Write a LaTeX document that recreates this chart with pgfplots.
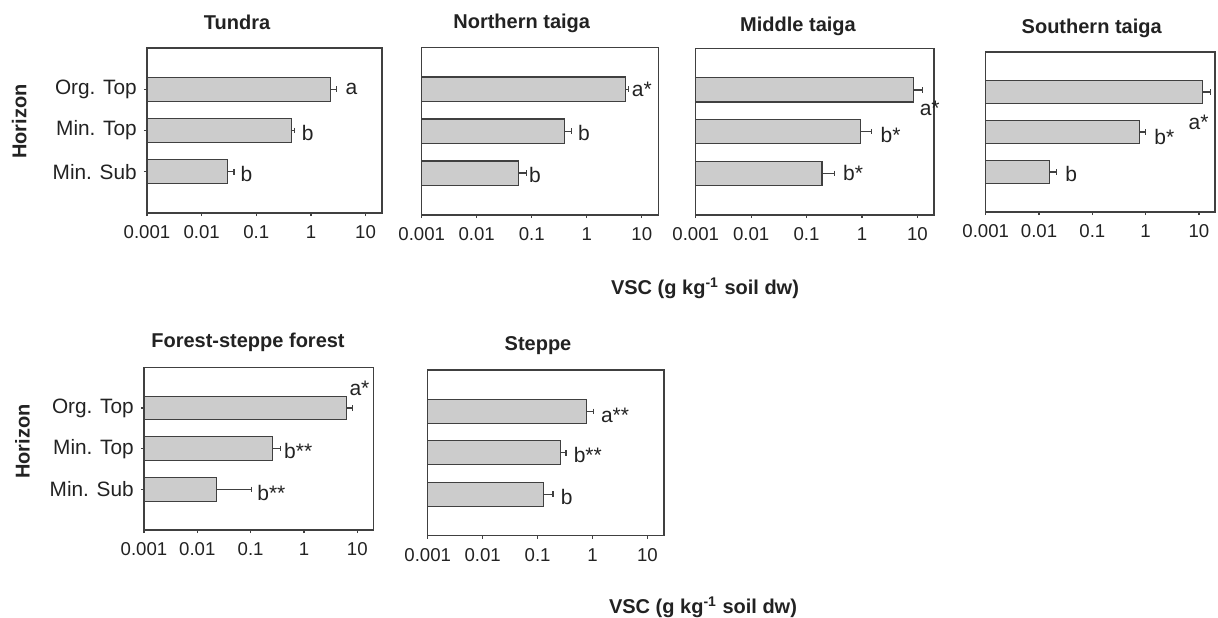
\documentclass[border=0pt]{standalone}
\usepackage{pgfplots}
\pgfplotsset{compat=1.18}
\usepackage{fontspec}
\setmainfont{Liberation Sans}

\definecolor{barfill}{HTML}{CCCCCC}
\definecolor{edgegray}{HTML}{404040}
\definecolor{txt}{HTML}{222222}

\pgfplotsset{/pgf/number format/assume math mode=true}
\pgfplotsset{
  vscpanel/.style={
    scale only axis, anchor=south west, clip=false,
    log origin=infty,
    xmin=0.001, xmax=20, ymin=0, ymax=4, y dir=reverse,
    xtick={0.001,0.01,0.1,1,10}, xticklabels={0.001,0.01,0.1,1,10},
    xminorticks=false,
    ytick={1,2,3}, yticklabels={},
    xtick pos=bottom, ytick pos=left,
    tick align=outside, major tick length=1.6pt,
    axis line style={edgegray, line width=0.75pt},
    tick style={edgegray, line width=0.6pt},
    tick label style={font=\fontsize{9.3}{10}\selectfont, text=txt},
    xticklabel style={yshift=-1.2pt},
    yticklabel style={font=\fontsize{10.4}{11}\selectfont},
    xbar, bar width=0.58,
  },
  noy/.style={ytick=\empty},
  vscbars/.style={fill=barfill, draw=edgegray, line width=0.6pt,
    error bars/x dir=plus, error bars/x explicit,
    error bars/error bar style={edgegray, line width=0.6pt},
    error bars/error mark options={rotate=90, mark size=1.4pt, edgegray, line width=0.6pt}},
}
\tikzset{
  lab/.style={font=\fontsize{10.5}{11}\selectfont, text=txt},
  ttl/.style={font=\bfseries\fontsize{10}{12}\selectfont, text=txt, anchor=base},
  axlab/.style={font=\bfseries\fontsize{10}{12}\selectfont, text=txt},
}

\begin{document}
\begin{tikzpicture}
\useasboundingbox (0,0) rectangle (609pt,308.5pt);

% top row
\begin{semilogxaxis}[vscpanel, at={(73.5pt,202pt)}, width=117.5pt, height=82.5pt,
    yticklabels={Org. Top, Min. Top, Min. Sub}]
  \addplot[vscbars] coordinates {(2.3,1) +- (0.67,0) (0.44,2) +- (0.06,0) (0.030,3) +- (0.009,0)};
  \node[lab] at (axis cs:5.5,1) {a};
  \node[lab] at (axis cs:0.87,2.05) {b};
  \node[lab] at (axis cs:0.066,3.05) {b};
\end{semilogxaxis}

\begin{semilogxaxis}[vscpanel, noy, at={(210.85pt,201pt)}, width=118.3pt, height=83.85pt]
  \addplot[vscbars] coordinates {(5.0,1) +- (0.7,0) (0.39,2) +- (0.14,0) (0.058,3) +- (0.023,0)};
  \node[lab] at (axis cs:10,1) {a*};
  \node[lab] at (axis cs:0.89,2.05) {b};
  \node[lab] at (axis cs:0.115,3.05) {b};
\end{semilogxaxis}

\begin{semilogxaxis}[vscpanel, noy, at={(347.85pt,201pt)}, width=119.15pt, height=83.35pt]
  \addplot[vscbars] coordinates {(8.5,1) +- (4.0,0) (0.93,2) +- (0.54,0) (0.19,3) +- (0.13,0)};
  \node[lab] at (axis cs:16.7,1.43) {a*};
  \node[lab] at (axis cs:3.3,2.07) {b*};
  \node[lab] at (axis cs:0.69,3.0) {b*};
\end{semilogxaxis}

\begin{semilogxaxis}[vscpanel, noy, at={(492.85pt,202.5pt)}, width=114.65pt, height=80pt]
  \addplot[vscbars] coordinates {(11.5,1) +- (5.0,0) (0.76,2) +- (0.22,0) (0.0157,3) +- (0.0053,0)};
  \node[lab] at (axis cs:9.8,1.75) {a*};
  \node[lab] at (axis cs:2.24,2.13) {b*};
  \node[lab] at (axis cs:0.040,3.05) {b};
\end{semilogxaxis}

% bottom row
\begin{semilogxaxis}[vscpanel, at={(72pt,43.5pt)}, width=114.65pt, height=81.35pt,
    yticklabels={Org. Top, Min. Top, Min. Sub}]
  \addplot[vscbars] coordinates {(6.3,1) +- (1.8,0) (0.26,2) +- (0.10,0) (0.023,3) +- (0.081,0)};
  \node[lab] at (axis cs:11,0.51) {a*};
  \node[lab] at (axis cs:0.78,2.05) {b**};
  \node[lab] at (axis cs:0.245,3.09) {b**};
\end{semilogxaxis}

\begin{semilogxaxis}[vscpanel, noy, at={(213.85pt,40.65pt)}, width=118.15pt, height=82.85pt]
  \addplot[vscbars] coordinates {(0.78,1) +- (0.27,0) (0.26,2) +- (0.07,0) (0.13,3) +- (0.06,0)};
  \node[lab] at (axis cs:2.57,1.09) {a**};
  \node[lab] at (axis cs:0.82,2.05) {b**};
  \node[lab] at (axis cs:0.34,3.06) {b};
\end{semilogxaxis}

% titles
\node[ttl] at (118.5pt,293.75pt) {Tundra};
\node[ttl] at (260.85pt,294.35pt) {Northern taiga};
\node[ttl] at (399pt,292.65pt) {Middle taiga};
\node[ttl] at (545.85pt,291.85pt) {Southern taiga};
\node[ttl] at (124pt,134.65pt) {Forest-steppe forest};
\node[ttl] at (269pt,133.5pt) {Steppe};

% shared axis labels
\node[axlab, rotate=90] at (9.6pt,247.75pt) {Horizon};
\node[axlab, rotate=90] at (11.25pt,87.75pt) {Horizon};
\node[axlab, anchor=base] at (352.5pt,161.35pt) {VSC (g kg\textsuperscript{-1} soil dw)};
\node[axlab, anchor=base] at (351.5pt,1.85pt) {VSC (g kg\textsuperscript{-1} soil dw)};
\end{tikzpicture}
\end{document}
